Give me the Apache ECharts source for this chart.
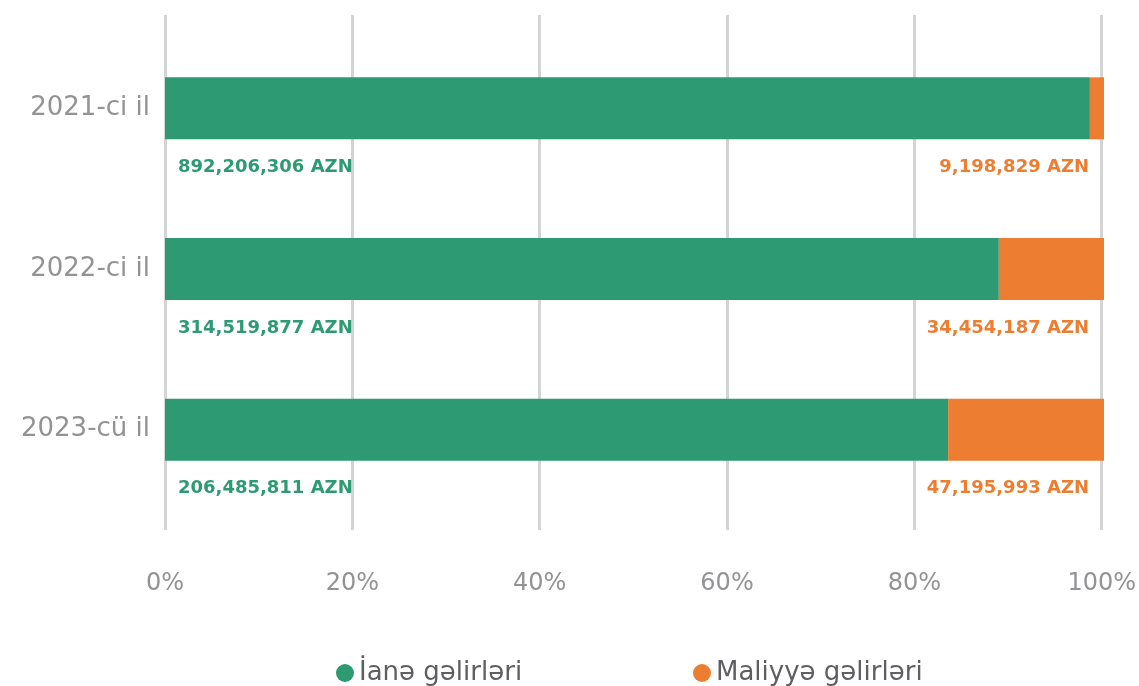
<!DOCTYPE html>
<html>
<head>
<meta charset="utf-8">
<script src="https://cdn.jsdelivr.net/npm/echarts@6/dist/echarts.min.js"></script>
<style>
  html, body { margin: 0; padding: 0; background: #fff; }
  #chart { width: 1139px; height: 686px; }
</style>
</head>
<body>
<div id="chart"></div>
<script>
// illerin adlari
var categories = ['2021-ci il', '2022-ci il', '2023-cü il'];
// AZN ile meblegler (etiketler)
var ianeAmounts = [892206306, 314519877, 206485811];
var maliyyeAmounts = [9198829, 34454187, 47195993];
// faiz paylari (zolaqlarin uzunlugu)
var ianeShare = [98.5, 88.8, 83.4];
var maliyyeShare = [1.5, 11.2, 16.6];
var ticks = [0, 20, 40, 60, 80, 100];

var green = '#2e9a74';
var orange = '#ed7d31';
var fontName = '"DejaVu Sans", sans-serif';

function fmt(n) {
    return n.toLocaleString('en-US') + ' AZN';
}

var legendText = { fontSize: 26, color: '#5f5f63', fontFamily: fontName };

var option = {
    animation: false,
    textStyle: { fontFamily: fontName },
    legend: [
        {
            left: 331, top: 655, icon: 'circle', itemWidth: 18, itemHeight: 18,
            itemGap: 6, textStyle: legendText, data: ['İanə gəlirləri']
        },
        {
            left: 688, top: 655, icon: 'circle', itemWidth: 18, itemHeight: 18,
            itemGap: 6, textStyle: legendText, data: ['Maliyyə gəlirləri']
        }
    ],
    grid: [
        { left: 165, right: 35, top: 28, bottom: 176 },
        { left: 165, right: 35, top: 15, bottom: 156 }
    ],
    xAxis: [
        { gridIndex: 0, type: 'value', min: 0, max: 100, show: false },
        {
            gridIndex: 1, type: 'value', min: 0, max: 100, interval: 20,
            axisLine: { show: false }, axisTick: { show: false },
            splitLine: { show: true, lineStyle: { color: '#d3d5d5', width: 3 } },
            axisLabel: {
                margin: 42, fontSize: 24, color: '#939396', fontFamily: fontName,
                formatter: function (v) { return ticks.indexOf(v) >= 0 ? v + '%' : ''; }
            }
        }
    ],
    yAxis: [
        {
            gridIndex: 0, type: 'category', data: categories, inverse: true,
            axisLine: { show: false }, axisTick: { show: false },
            axisLabel: { margin: 15, fontSize: 26, color: '#939396', fontFamily: fontName }
        },
        { gridIndex: 1, type: 'category', data: categories, show: false }
    ],
    series: [
        {
            name: 'İanə gəlirləri', type: 'bar', stack: 'total',
            xAxisIndex: 0, yAxisIndex: 0,
            barWidth: 62, itemStyle: { color: green },
            data: ianeShare,
            label: {
                show: true, position: [13, '100%'], offset: [0, 28],
                align: 'left', verticalAlign: 'middle',
                fontSize: 18, fontWeight: 'bold', color: green, fontFamily: fontName,
                formatter: function (p) { return fmt(ianeAmounts[p.dataIndex]); }
            }
        },
        {
            name: 'Maliyyə gəlirləri', type: 'bar', stack: 'total',
            xAxisIndex: 0, yAxisIndex: 0,
            barWidth: 62, itemStyle: { color: orange },
            data: maliyyeShare,
            label: {
                show: true, position: ['100%', '100%'], offset: [-15, 28],
                align: 'right', verticalAlign: 'middle',
                fontSize: 18, fontWeight: 'bold', color: orange, fontFamily: fontName,
                formatter: function (p) { return fmt(maliyyeAmounts[p.dataIndex]); }
            }
        }
    ]
};

var chart = echarts.init(document.getElementById('chart'));
chart.setOption(option);
</script>
</body>
</html>
